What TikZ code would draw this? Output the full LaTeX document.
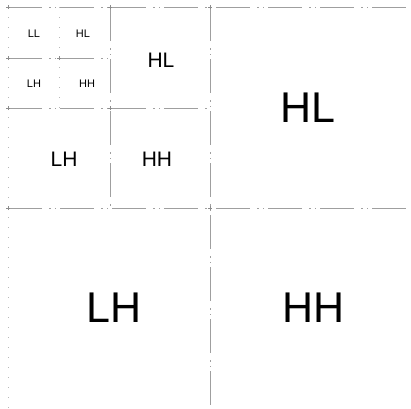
\documentclass[tikz,border=0pt]{standalone}
\usepackage{fontspec}
\setmainfont{Liberation Sans}
\begin{document}
\begin{tikzpicture}[x=1pt,y=-1pt,
  gridline/.style={draw=gray!75,line width=0.8pt,dash pattern=on 34pt off 7pt on 2pt off 4pt on 1pt off 4pt},
  faintline/.style={draw=gray!55,line width=0.6pt,dash pattern=on 1pt off 9pt},
  tick/.style={draw=gray!90,line width=0.6pt},
  big/.style={font=\fontsize{43}{43}\selectfont,inner sep=0pt},
  mid/.style={font=\fontsize{21}{21}\selectfont,inner sep=0pt},
  small/.style={font=\fontsize{11}{11}\selectfont,inner sep=0pt}]
\useasboundingbox (0,0) rectangle (411,408);
% key points
\coordinate (tl) at (8,7);
\coordinate (tr) at (411,7);
\coordinate (bl) at (8,408);
\coordinate (c1top) at (210,7);
\coordinate (c1bot) at (210,408);
\coordinate (c1left) at (8,208);
\coordinate (c1right) at (411,208);
\coordinate (c1) at (210,208);
\coordinate (c2top) at (110,7);
\coordinate (c2bot) at (110,208);
\coordinate (c2left) at (8,108);
\coordinate (c2right) at (210,108);
\coordinate (c2) at (110,108);
\coordinate (c3top) at (59,7);
\coordinate (c3bot) at (59,108);
\coordinate (c3left) at (8,58);
\coordinate (c3right) at (110,58);
\coordinate (c3) at (59,58);
% lines
\draw[gridline] (tl) -- (tr);
\draw[faintline] (tl) -- (bl);
\draw[gridline] (c1top) -- (c1bot);
\draw[gridline] (c1left) -- (c1right);
\draw[gridline] (c2top) -- (c2bot);
\draw[gridline] (c2left) -- (c2right);
\draw[faintline] (c3top) -- (c3bot);
\draw[gridline] (c3left) -- (c3right);
% ticks
\foreach \p in {c1,c2,c3,c1top,c2top,tl,c1left,c2left,c3left}{
  \draw[tick] ([xshift=-2pt]\p) -- ([xshift=2pt]\p);
  \draw[tick] ([yshift=-2pt]\p) -- ([yshift=2pt]\p);
}
% labels
\node[big] (bHL) at (308,108) {HL};
\node[big] (bLH) at (114,308) {LH};
\node[big] (bHH) at (314,308) {HH};
\node[mid] (mHL) at (161,60) {HL};
\node[mid] (mLH) at (64,159) {LH};
\node[mid] (mHH) at (157,159) {HH};
\node[small] (sLL) at (34,34) {LL};
\node[small] (sHL) at (83,34) {HL};
\node[small] (sLH) at (34,84) {LH};
\node[small] (sHH) at (87,84) {HH};
\end{tikzpicture}
\end{document}
